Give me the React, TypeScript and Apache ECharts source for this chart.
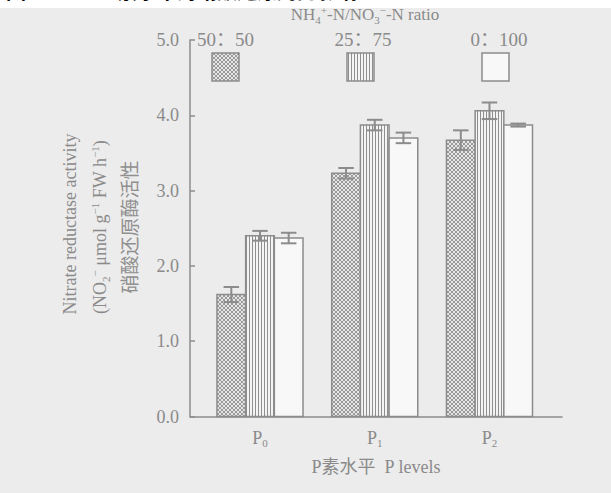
import React, { useEffect, useRef } from 'react';
import * as echarts from 'echarts';

// ---- data ----
const categories = ['P0', 'P1', 'P2'];
const seriesNames = ['50：50', '25：75', '0：100'];
const values5050 = [1.62, 3.23, 3.67];
const errors5050 = [0.10, 0.07, 0.13];
const values2575 = [2.40, 3.87, 4.06];
const errors2575 = [0.065, 0.07, 0.11];
const values0100 = [2.37, 3.70, 3.87];
const errors0100 = [0.07, 0.07, 0.02];
const yMin = 0;
const yMax = 5;
const yInterval = 1;

const LINE = '#8c8c8c';
const TEXT = '#8a8a8a';
const BG = '#ececec';
const SERIF = '"Liberation Serif", "Noto Sans CJK SC", serif';

function makeCross(): HTMLCanvasElement {
  const c = document.createElement('canvas');
  c.width = 4;
  c.height = 4;
  const g = c.getContext('2d')!;
  g.fillStyle = '#e6e6e6';
  g.fillRect(0, 0, 4, 4);
  g.fillStyle = '#999999';
  for (let i = 0; i < 4; i++) {
    g.fillRect(i, i, 1, 1);
    g.fillRect(i, 3 - i, 1, 1);
  }
  return c;
}

function makeVertical(): HTMLCanvasElement {
  const c = document.createElement('canvas');
  c.width = 3;
  c.height = 2;
  const g = c.getContext('2d')!;
  g.fillStyle = '#f4f4f4';
  g.fillRect(0, 0, 3, 2);
  g.fillStyle = '#8e8e8e';
  g.fillRect(0, 0, 1, 2);
  return c;
}

function richStyles(size: number) {
  const small = Math.round(size * 0.62);
  return {
    m: { fontSize: size, fontFamily: SERIF, color: TEXT, fill: TEXT, lineHeight: size + 4 },
    sb: { fontSize: small, fontFamily: SERIF, color: TEXT, fill: TEXT, lineHeight: small + 1, verticalAlign: 'bottom' },
    sp: { fontSize: small, fontFamily: SERIF, color: TEXT, fill: TEXT, lineHeight: small + 1, verticalAlign: 'top' },
  };
}

export default function App() {
  const ref = useRef<HTMLDivElement>(null);

  useEffect(() => {
    if (!ref.current) return;
    const chart = echarts.init(ref.current, null, { renderer: 'svg' });

    const crossCanvas = makeCross();
    const vertCanvas = makeVertical();
    const fills: any[] = [
      { image: crossCanvas, repeat: 'repeat', imageWidth: 4, imageHeight: 4 },
      { image: vertCanvas, repeat: 'repeat', imageWidth: 3, imageHeight: 2 },
      '#f8f8f8',
    ];
    const allValues = [values5050, values2575, values0100];
    const allErrors = [errors5050, errors2575, errors0100];
    const BAR_UNITS = 0.25;

    const series = allValues.map((vals, si) => ({
      type: 'custom',
      name: seriesNames[si],
      data: vals.map((v, ci) => [ci + 1, v, allErrors[si][ci]]),
      encode: { x: 0, y: 1 },
      renderItem: (params: any, api: any) => {
        const x = api.value(0);
        const v = api.value(1);
        const e = api.value(2);
        const unit = api.size([1, 0])[0];
        const bw = unit * BAR_UNITS;
        const base = api.coord([x, 0]);
        const top = api.coord([x, v]);
        const left = base[0] + (si - 1.5) * bw;
        const cx = left + bw / 2;
        const hi = api.coord([x, v + e])[1];
        const lo = api.coord([x, v - e])[1];
        const capHalf = bw * 0.27;
        return {
          type: 'group',
          children: [
            {
              type: 'rect',
              shape: { x: left, y: top[1], width: bw, height: base[1] - top[1] },
              style: { fill: fills[si], stroke: LINE, lineWidth: 1.5 },
            },
            {
              type: 'line',
              shape: { x1: cx, y1: hi, x2: cx, y2: lo },
              style: { stroke: LINE, lineWidth: 2 },
            },
            {
              type: 'line',
              shape: { x1: cx - capHalf, y1: hi, x2: cx + capHalf, y2: hi },
              style: { stroke: LINE, lineWidth: 2 },
            },
            {
              type: 'line',
              shape: { x1: cx - capHalf, y1: lo, x2: cx + capHalf, y2: lo },
              style: { stroke: LINE, lineWidth: 2 },
            },
          ],
        };
      },
    }));

    const legendBoxes = [
      { x: 212, cx: 225.5, fill: fills[0] },
      { x: 347, cx: 363, fill: fills[1] },
      { x: 482, cx: 499, fill: fills[2] },
    ];

    const graphic: any[] = [
      { type: 'rect', shape: { x: 0, y: 0, width: 611, height: 8 }, style: { fill: '#ffffff' }, silent: true },
      {
        type: 'text', x: 6, y: 0,
        style: { text: '图2', fill: '#000', font: 'bold 20px "Noto Sans CJK SC"', verticalAlign: 'bottom', align: 'left' },
      },
      {
        type: 'text', x: 104, y: 0,
        style: { text: 'P素水平对硝酸还原酶的影响', fill: '#000', font: 'bold 20px "Noto Sans CJK SC"', verticalAlign: 'bottom', align: 'left' },
      },
      {
        type: 'text', x: 365, y: 14.5,
        style: {
          text: '{m|NH}{sb|4}{sp|+}{m|-N/NO}{sb|3}{sp|−}{m|-N ratio}',
          rich: richStyles(17),
          fill: TEXT,
          align: 'center', verticalAlign: 'middle',
        },
      },
      ...legendBoxes.flatMap((b, i) => [
        {
          type: 'rect', shape: { x: b.x, y: 53, width: 27, height: 28 },
          style: { fill: b.fill, stroke: LINE, lineWidth: 1.5 },
        },
        {
          type: 'text', x: b.cx, y: 39,
          style: { text: seriesNames[i], fill: TEXT, font: `19px ${SERIF}`, align: 'center', verticalAlign: 'middle' },
        },
      ]),
      {
        type: 'text', x: 70, y: 224, rotation: Math.PI / 2,
        style: { text: 'Nitrate reductase activity', fill: TEXT, font: `18px ${SERIF}`, align: 'center', verticalAlign: 'middle' },
      },
      {
        type: 'text', x: 100, y: 227, rotation: Math.PI / 2,
        style: {
          text: '{m|(NO}{sb|2}{sp|−}{m| μmol g}{sp|−1}{m| FW h}{sp|−1}{m|)}',
          rich: richStyles(18),
          fill: TEXT,
          align: 'center', verticalAlign: 'middle',
        },
      },
      {
        type: 'text', x: 128, y: 227, rotation: Math.PI / 2,
        style: { text: '硝酸还原酶活性', fill: '#909090', font: '19px "Noto Sans CJK SC"', align: 'center', verticalAlign: 'middle' },
      },
    ];

    chart.setOption({
      animation: false,
      backgroundColor: BG,
      grid: { left: 190, top: 40, right: 49, bottom: 76.5 },
      xAxis: {
        type: 'value',
        min: 0.39,
        max: 3.632,
        name: 'P素水平  P levels',
        nameLocation: 'middle',
        nameGap: 41,
        nameTextStyle: { color: TEXT, fontSize: 18, fontFamily: SERIF },
        axisLine: { show: true, lineStyle: { color: LINE, width: 1.5 } },
        axisTick: { show: false },
        splitLine: { show: false },
        axisLabel: {
          customValues: [1, 2, 3],
          formatter: (v: number) => {
            const c = categories[Math.round(v) - 1];
            return c ? `{m|${c.charAt(0)}}{sb|${c.slice(1)}}` : '';
          },
          rich: richStyles(18),
          margin: 10,
        },
      },
      yAxis: {
        type: 'value',
        min: yMin,
        max: yMax,
        interval: yInterval,
        axisLine: { show: true, lineStyle: { color: LINE, width: 1.5 } },
        axisTick: { show: true, inside: true, length: 5, lineStyle: { color: LINE, width: 1.5 } },
        splitLine: { show: false },
        axisLabel: {
          formatter: (v: number) => v.toFixed(1),
          color: TEXT,
          fontSize: 18,
          fontFamily: SERIF,
          margin: 11,
        },
      },
      graphic,
      series,
    } as any);

    return () => chart.dispose();
  }, []);

  return (
    <div
      ref={ref}
      style={{ position: 'fixed', left: 0, top: 0, width: 611, height: 493, background: BG }}
    />
  );
}
